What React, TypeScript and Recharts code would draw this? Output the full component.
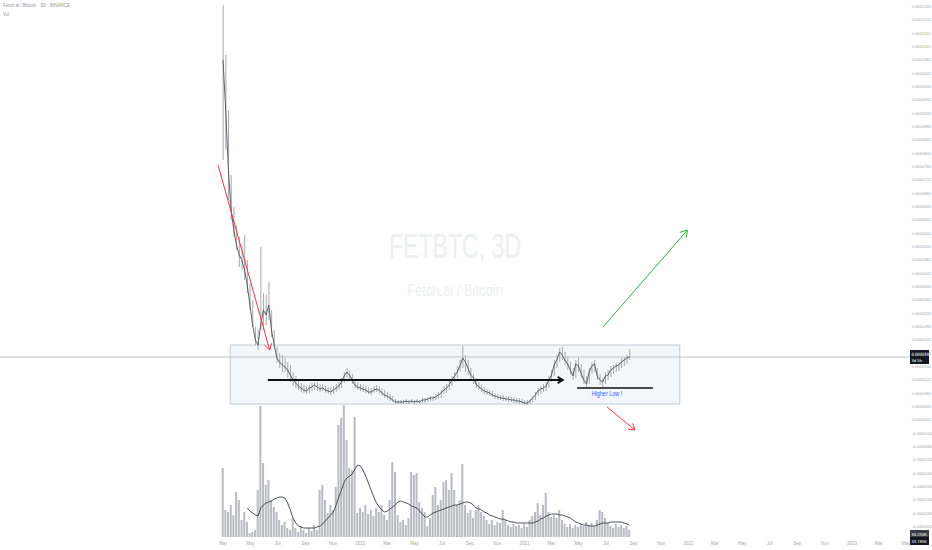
import {
  Bar,
  ComposedChart,
  Line,
  ReferenceArea,
  ReferenceLine,
  XAxis,
  YAxis,
} from 'recharts'

// FET/BTC, 3D candles (every second candle sampled). Prices are in satoshi.
const DAY = 86400000
const FIRST_BAR = Date.UTC(2019, 2, 1)
const BAR_DAYS = 6

const HIGHS = [
  12450, 10950, 9300, 7350, 6390, 5850, 5490, 5250, 5550, 4800,
  4110, 3600, 2790, 2700, 5190, 3810, 3750, 4140, 3300, 2700,
  2190, 2010, 1950, 1860, 1740, 1650, 1440, 1320, 1200, 1110,
  1050, 1020, 1050, 1110, 1140, 1140, 1080, 1080, 1020, 990,
  990, 1020, 1080, 1140, 1260, 1440, 1560, 1500, 1380, 1200,
  1140, 1080, 1050, 1020, 990, 960, 1020, 1050, 1020, 960,
  900, 840, 780, 720, 630, 600, 600, 600, 630, 600,
  630, 600, 630, 600, 660, 660, 690, 720, 720, 780,
  840, 900, 1020, 1080, 1200, 1320, 1440, 1620, 1800, 2220,
  1950, 1800, 1560, 1380, 1260, 1140, 1050, 990, 930, 900,
  870, 810, 780, 750, 750, 720, 720, 690, 690, 660,
  660, 630, 600, 600, 630, 720, 840, 960, 1020, 1080,
  1140, 1320, 1500, 1800, 1950, 2160, 2190, 2040, 1920, 1740,
  1560, 1800, 1860, 1680, 1500, 1320, 1560, 1740, 1800, 1560,
  1380, 1260, 1440, 1500, 1620, 1650, 1710, 1740, 1860, 1890,
  1950, 2130,
]

const LOWS = [
  7800, 8100, 6600, 6000, 5490, 5100, 4590, 4500, 4200, 3810,
  3300, 2790, 2250, 2100, 2700, 2700, 2850, 3000, 2490, 2190,
  1710, 1560, 1440, 1440, 1260, 1140, 1020, 960, 900, 840,
  810, 780, 810, 870, 900, 870, 840, 870, 810, 780,
  750, 780, 840, 900, 960, 1110, 1260, 1200, 1080, 960,
  900, 870, 840, 810, 780, 750, 810, 840, 810, 720,
  660, 630, 570, 540, 480, 480, 480, 480, 480, 480,
  510, 480, 510, 480, 510, 510, 540, 570, 570, 600,
  630, 660, 780, 810, 900, 1020, 1140, 1260, 1440, 1560,
  1440, 1350, 1200, 1080, 960, 900, 840, 780, 750, 720,
  690, 630, 600, 600, 570, 570, 540, 540, 510, 510,
  480, 480, 450, 450, 480, 540, 600, 720, 780, 840,
  870, 960, 1140, 1320, 1560, 1740, 1800, 1650, 1500, 1350,
  1200, 1260, 1440, 1260, 1080, 960, 1080, 1380, 1440, 1200,
  1050, 990, 1080, 1200, 1290, 1380, 1440, 1470, 1560, 1620,
  1680, 1800,
]

const CLOSES = [
  10800, 9300, 7500, 6300, 5700, 5250, 4950, 4800, 4500, 4050,
  3450, 2850, 2400, 2250, 2850, 3300, 3150, 3450, 2700, 2250,
  1860, 1740, 1650, 1590, 1500, 1350, 1200, 1110, 1020, 960,
  900, 870, 960, 990, 1050, 990, 930, 960, 900, 870,
  840, 900, 960, 1020, 1140, 1320, 1440, 1350, 1200, 1050,
  990, 960, 930, 900, 840, 840, 900, 930, 900, 810,
  750, 720, 660, 600, 540, 540, 540, 540, 570, 540,
  570, 540, 570, 540, 600, 600, 630, 660, 660, 690,
  750, 810, 900, 960, 1050, 1200, 1320, 1440, 1620, 1860,
  1740, 1560, 1350, 1260, 1080, 990, 930, 870, 840, 810,
  750, 720, 690, 660, 660, 630, 630, 600, 600, 570,
  570, 540, 510, 510, 570, 660, 750, 870, 930, 960,
  1020, 1200, 1350, 1650, 1800, 2040, 1950, 1800, 1680, 1500,
  1320, 1680, 1620, 1410, 1200, 1080, 1440, 1620, 1680, 1320,
  1200, 1140, 1320, 1350, 1500, 1560, 1620, 1650, 1740, 1800,
  1860, 1890,
]

const VOLUMES = [
  690, 270, 250, 320, 220, 450, 370, 170, 250, 150,
  40, 50, 70, 470, 1310, 740, 520, 570, 370, 300,
  250, 170, 120, 150, 90, 70, 190, 90, 50, 110,
  70, 40, 90, 60, 120, 70, 470, 520, 370, 240,
  320, 270, 500, 1120, 1190, 1320, 970, 690, 670, 1200,
  240, 290, 250, 320, 230, 270, 210, 290, 250, 320,
  220, 170, 370, 750, 650, 220, 150, 170, 120, 190,
  650, 620, 640, 350, 290, 250, 110, 190, 420, 500,
  320, 370, 550, 570, 470, 640, 470, 320, 370, 730,
  320, 240, 270, 190, 270, 320, 250, 210, 170, 130,
  170, 120, 150, 140, 270, 170, 120, 100, 130, 110,
  120, 90, 130, 100, 170, 210, 250, 340, 220, 320,
  440, 250, 200, 220, 190, 270, 170, 130, 100, 130,
  90, 120, 100, 130, 110, 150, 120, 140, 110, 170,
  270, 250, 190, 140, 110, 90, 130, 100, 120, 90,
  110, 70,
]

const VOLUME_MA = [
  null, null, null, null, null, null, null, null, null,
  290, 260, 240, 220, 210, 290, 320, 340, 350, 360,
  380, 390, 400, 400, 390, 340, 270, 190, 140, 110,
  100, 90, 90, 90, 90, 90, 100, 110, 130, 160,
  190, 220, 250, 320, 400, 470, 550, 590, 610, 630,
  680, 720, 710, 670, 610, 540, 470, 400, 340, 300,
  270, 250, 260, 280, 300, 320, 350, 360, 350, 340,
  330, 310, 300, 290, 260, 230, 200, 200, 220, 240,
  250, 260, 270, 280, 290, 300, 310, 320, 320, 330,
  340, 350, 350, 340, 320, 290, 280, 270, 250, 240,
  220, 210, 200, 190, 180, 180, 170, 160, 150, 150,
  140, 140, 140, 140, 140, 140, 140, 150, 160, 180,
  190, 210, 220, 230, 230, 230, 220, 220, 210, 200,
  190, 170, 150, 140, 130, 120, 120, 110, 110, 110,
  120, 130, 140, 140, 140, 150, 150, 150, 150, 150,
  140, 130, 120,
]

const TIME_TICKS = [
  '2019-03-01', '2019-05-01', '2019-07-01', '2019-09-01', '2019-11-01',
  '2020-01-01', '2020-03-01', '2020-05-01', '2020-07-01', '2020-09-01', '2020-11-01',
  '2021-01-01', '2021-03-01', '2021-05-01', '2021-07-01', '2021-09-01', '2021-11-01',
  '2022-01-01', '2022-03-01', '2022-05-01', '2022-07-01', '2022-09-01', '2022-11-01',
  '2023-01-01', '2023-03-01', '2023-05-01',
].map((d) => Date.parse(d))

const PRICE_TICKS = [
  -3200, -2800, -2400, -2000, -1600, -1200, -800, -400, 0, 400,
  800, 1200, 1600, 2000, 2400, 2800, 3200, 3600, 4000, 4400,
  4800, 5200, 5600, 6000, 6400, 6800, 7200, 7600, 8000, 8400,
  8800, 9200, 9600, 10000, 10400, 10800, 11200, 11600, 12000, 12400,
]

const X_DOMAIN = [Date.parse('2017-10-20'), Date.parse('2023-05-10')]
const PRICE_DOMAIN = [-3510, 12600]
const VOLUME_DOMAIN = [0, 5370]

const LAST_PRICE = CLOSES[CLOSES.length - 1]
const LAST_VOLUME = VOLUMES[VOLUMES.length - 1]

// drawings on the chart, in [date, price] pairs
const RED_ARROW_1 = [['2019-02-18', 7650], ['2019-06-13', 2100]] as const
const RANGE_BOX = { from: '2019-03-17', to: '2021-12-13', low: 480, high: 2250 }
const BASE_ARROW = [['2019-06-09', 1200], ['2021-03-27', 1200]] as const
const HIGHER_LOW = [['2021-04-28', 960], ['2021-10-14', 960]] as const
const GREEN_ARROW = [['2021-06-25', 2790], ['2021-12-30', 5700]] as const
const RED_ARROW_2 = [['2021-07-04', 390], ['2021-09-04', -300]] as const

const MONTHS = ['Jan', 'Feb', 'Mar', 'Apr', 'May', 'Jun', 'Jul', 'Aug', 'Sep', 'Oct', 'Nov', 'Dec']
const FONT = "'Liberation Sans', Arial, sans-serif"
const AXIS_TEXT = '#a3a6ad'

const data = CLOSES.map((close, i) => ({
  t: FIRST_BAR + i * BAR_DAYS * DAY,
  high: HIGHS[i],
  low: LOWS[i],
  close,
  vol: VOLUMES[i],
  volMa: VOLUME_MA[i],
}))

const seg = (pts: readonly (readonly [string, number])[]) =>
  pts.map(([d, p]) => ({ x: Date.parse(d), y: p }))

const fmtTime = (v: number) => {
  const d = new Date(v)
  return d.getUTCMonth() === 0 ? String(d.getUTCFullYear()) : MONTHS[d.getUTCMonth()]
}
const fmtPrice = (v: number) => (v / 1e8).toFixed(7)

function arrow(color: string, width: number, head: number) {
  return (p: any) => {
    const { x1, y1, x2, y2 } = p
    const a = Math.atan2(y2 - y1, x2 - x1)
    const wing = (s: number) => `${x2 - head * Math.cos(a + s)},${y2 - head * Math.sin(a + s)}`
    return (
      <g>
        <line x1={x1} y1={y1} x2={x2} y2={y2} stroke={color} strokeWidth={width} />
        <polyline points={`${wing(0.55)} ${x2},${y2} ${wing(-0.55)}`} fill="none" stroke={color} strokeWidth={width} />
      </g>
    )
  }
}

function higherLowShape(p: any) {
  const { x1, y1, x2, y2 } = p
  const cx = (x1 + x2) / 2 - 8
  return (
    <g>
      <line x1={x1} y1={y1} x2={x2} y2={y2} stroke="#111" strokeWidth={1.3} />
      <text
        x={cx}
        y={y1 + 8.5}
        textAnchor="middle"
        fontSize={7}
        fontFamily={FONT}
        fill="#2962ff"
        transform={`translate(${cx} 0) scale(0.78 1) translate(${-cx} 0)`}
      >
        Higher Low !
      </text>
    </g>
  )
}

function AxisTag(props: any) {
  const { viewBox, lines, fill, dy = 0 } = props
  const x = viewBox.x + viewBox.width
  const y = viewBox.y + dy
  const h = lines.length * 6 + 2
  return (
    <g>
      <rect x={x} y={y - h / 2} width={19} height={h} fill={fill} />
      {lines.map((s: string, i: number) => (
        <text key={i} x={x + 1.5} y={y - h / 2 + 5.5 + i * 6} fontSize={4.2} fontFamily={FONT} fill="#fff">
          {s}
        </text>
      ))}
    </g>
  )
}

export default function App() {
  return (
    <div style={{ position: 'absolute', left: 0, top: 0, width: 932, height: 550, background: '#fff', overflow: 'hidden' }}>
      <div style={{ position: 'absolute', left: 0, top: 0, width: 910, textAlign: 'center', fontFamily: FONT, color: '#edeff2' }}>
        <div style={{ position: 'absolute', left: 0, width: 910, top: 226, fontSize: 35, lineHeight: '40px', transform: 'scaleX(0.66)' }}>
          FETBTC, 3D
        </div>
        <div style={{ position: 'absolute', left: 0, width: 910, top: 281, fontSize: 17, lineHeight: '20px', transform: 'scaleX(0.76)' }}>
          Fetch.ai / Bitcoin
        </div>
      </div>
      <div style={{ position: 'absolute', left: 3, top: 3, fontFamily: FONT, fontSize: 4.5, lineHeight: '6px', color: '#9598a1' }}>
        <div>Fetch.ai / Bitcoin · 3D · BINANCE</div>
        <div style={{ marginTop: 3 }}>Vol</div>
      </div>
      <div style={{ position: 'absolute', left: 0, top: 0 }}>
        <ComposedChart width={932} height={550} data={data} margin={{ top: 0, right: 0, bottom: 0, left: 0 }}>
          <XAxis
            dataKey="t"
            type="number"
            domain={X_DOMAIN}
            ticks={TIME_TICKS}
            tickFormatter={fmtTime}
            interval={0}
            allowDataOverflow
            height={13}
            axisLine={false}
            tickLine={false}
            tickSize={0}
            tickMargin={5}
            tick={{ fontSize: 4.5, fill: AXIS_TEXT, fontFamily: FONT }}
          />
          <XAxis xAxisId="vol" dataKey="t" type="number" domain={X_DOMAIN} allowDataOverflow hide />
          <YAxis
            yAxisId="price"
            orientation="right"
            width={22}
            domain={PRICE_DOMAIN}
            ticks={PRICE_TICKS}
            tickFormatter={fmtPrice}
            interval={0}
            allowDataOverflow
            axisLine={false}
            tickLine={false}
            tickSize={0}
            tickMargin={2}
            tick={{ fontSize: 4, fill: AXIS_TEXT, fontFamily: FONT }}
          />
          <YAxis yAxisId="vol" domain={VOLUME_DOMAIN} allowDataOverflow hide />

          <ReferenceArea
            yAxisId="price"
            x1={Date.parse(RANGE_BOX.from)}
            x2={Date.parse(RANGE_BOX.to)}
            y1={RANGE_BOX.low}
            y2={RANGE_BOX.high}
            fill="#dce8ef"
            fillOpacity={0.35}
            stroke="#bdccd6"
            strokeWidth={1}
          />
          <ReferenceLine
            yAxisId="price"
            y={LAST_PRICE}
            stroke="#bfc1c7"
            strokeWidth={1}
            label={<AxisTag lines={[fmtPrice(LAST_PRICE), '3d 5h']} fill="#131722" />}
          />

          <Bar xAxisId="vol" yAxisId="vol" dataKey="vol" fill="#b8bbc2" barSize={2} activeBar={false} isAnimationActive={false} />
          <Line
            xAxisId="vol"
            yAxisId="vol"
            dataKey="volMa"
            stroke="#3b3e46"
            strokeWidth={0.9}
            dot={false}
            activeDot={false}
            isAnimationActive={false}
          />
          <Bar
            yAxisId="price"
            dataKey={(d: any) => [d.low, d.high]}
            fill="#a6a9b1"
            barSize={1}
            activeBar={false}
            isAnimationActive={false}
          />
          <Line
            yAxisId="price"
            dataKey="close"
            stroke="#4d5059"
            strokeWidth={0.9}
            dot={false}
            activeDot={false}
            isAnimationActive={false}
          />

          <ReferenceLine
            xAxisId="vol"
            yAxisId="vol"
            y={LAST_VOLUME}
            stroke="none"
            label={<AxisTag lines={['94.253K']} fill="#3a3d45" dy={4} />}
          />
          <ReferenceLine
            xAxisId="vol"
            yAxisId="vol"
            y={LAST_VOLUME}
            stroke="none"
            label={<AxisTag lines={['33.785K']} fill="#131722" dy={11} />}
          />

          <ReferenceLine yAxisId="price" segment={seg(RED_ARROW_1)} shape={arrow('#f23645', 1, 7)} />
          <ReferenceLine yAxisId="price" segment={seg(BASE_ARROW)} shape={arrow('#111', 2, 6)} />
          <ReferenceLine yAxisId="price" segment={seg(HIGHER_LOW)} shape={higherLowShape} />
          <ReferenceLine yAxisId="price" segment={seg(GREEN_ARROW)} shape={arrow('#2fb344', 1, 8)} />
          <ReferenceLine yAxisId="price" segment={seg(RED_ARROW_2)} shape={arrow('#f23645', 1, 7)} />
        </ComposedChart>
      </div>
    </div>
  )
}
